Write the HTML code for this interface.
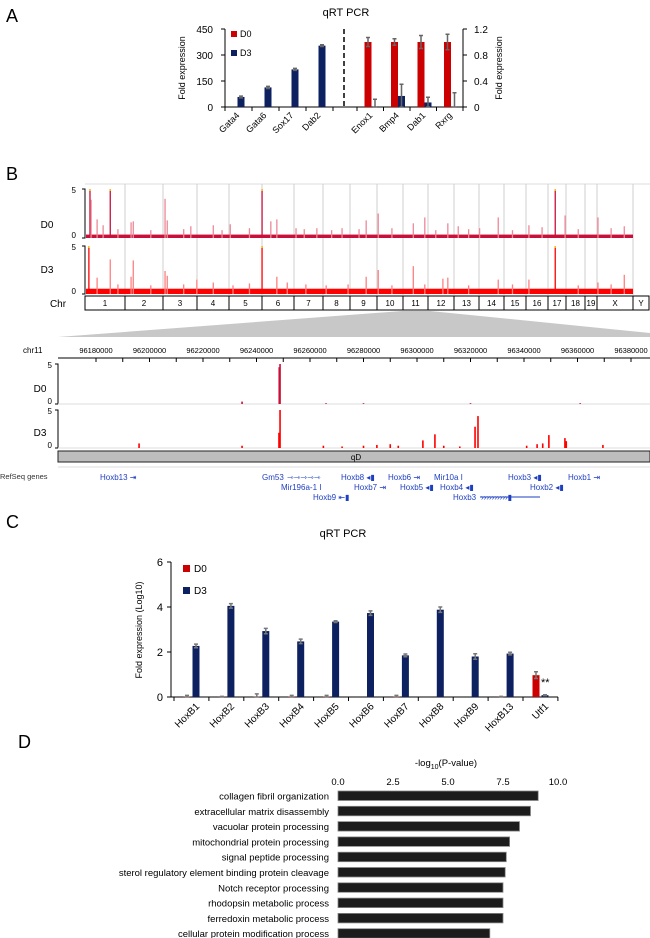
<!DOCTYPE html>
<html><head><meta charset="utf-8">
<style>
html,body{margin:0;padding:0;background:#fff;}
svg{display:block;font-family:"Liberation Sans",Arial,sans-serif;}
.g{fill:#1e3fc0;font-size:8px;}
</style></head>
<body>
<svg id="fig" width="650" height="938" viewBox="0 0 650 938">
<!-- Panel A static -->
<g>
<text x="6" y="22" font-size="18">A</text>
<text x="346" y="16" font-size="11" text-anchor="middle">qRT PCR</text>
<line x1="225" y1="29" x2="225" y2="107" stroke="#000" stroke-width="1"/>
<line x1="463" y1="29" x2="463" y2="107" stroke="#000" stroke-width="1"/>
<line x1="225" y1="107" x2="463" y2="107" stroke="#000" stroke-width="1"/>
<line x1="344" y1="29" x2="344" y2="107" stroke="#000" stroke-width="1.5" stroke-dasharray="5,3"/>
<g id="aTicks"></g>
<text x="185" y="68" font-size="9" text-anchor="middle" transform="rotate(-90 185 68)">Fold expression</text>
<text x="502" y="68" font-size="9" text-anchor="middle" transform="rotate(-90 502 68)">Fold expression</text>
<rect x="231" y="31" width="6" height="6" fill="#cc0000"/>
<text x="240" y="37" font-size="9">D0</text>
<rect x="231" y="50" width="6" height="6" fill="#0d2060"/>
<text x="240" y="56" font-size="9">D3</text>
<g id="aBars"></g>
</g>

<!-- Panel B -->
<g>
<text x="6" y="180" font-size="18">B</text>
<line x1="85" y1="184" x2="650" y2="184" stroke="#ddd" stroke-width="1"/>
<g id="chrSep"></g>
<g id="gTracks"></g>
<text x="47" y="228" font-size="10" text-anchor="middle">D0</text>
<text x="47" y="273" font-size="10" text-anchor="middle">D3</text>
<text x="58" y="307" font-size="10" text-anchor="middle">Chr</text>
<g id="chrBoxes"></g>
<polygon points="402,311 430,311 650,333 650,337 58,337" fill="#c8c8c8"/>
<text x="23" y="353" font-size="8">chr11</text>
<line x1="58" y1="358" x2="650" y2="358" stroke="#000" stroke-width="1"/>
<g id="zAxis"></g>
<g id="zTracks"></g>
<text x="40" y="392" font-size="10" text-anchor="middle">D0</text>
<text x="40" y="436" font-size="10" text-anchor="middle">D3</text>
<rect x="58" y="451" width="592" height="11" fill="#bdbdbd" stroke="#222" stroke-width="1"/>
<text x="356" y="460" font-size="8" text-anchor="middle">qD</text>
<line x1="58" y1="467" x2="650" y2="467" stroke="#ddd" stroke-width="1"/>
<text x="0" y="479" font-size="7.5" fill="#333">RefSeq genes</text>
<g>
<text class="g" x="100" y="480">Hoxb13 ⇥</text>
<text class="g" x="262" y="480">Gm53</text>
<text class="g" x="287" y="480" font-size="7">⇾⇾⇾⇾⇾</text>
<text class="g" x="341" y="480">Hoxb8 ◂▮</text>
<text class="g" x="388" y="480">Hoxb6 ⇥</text>
<text class="g" x="434" y="480">Mir10a  I</text>
<text class="g" x="508" y="480">Hoxb3 ◂▮</text>
<text class="g" x="568" y="480">Hoxb1 ⇥</text>
<text class="g" x="281" y="490">Mir196a-1  I</text>
<text class="g" x="354" y="490">Hoxb7 ⇥</text>
<text class="g" x="400" y="490">Hoxb5 ◂▮</text>
<text class="g" x="440" y="490">Hoxb4 ◂▮</text>
<text class="g" x="530" y="490">Hoxb2 ◂▮</text>
<text class="g" x="313" y="500">Hoxb9 ⇤▮</text>
<text class="g" x="453" y="500">Hoxb3</text>
<line x1="480" y1="497" x2="540" y2="497" stroke="#1e3fc0" stroke-width="1"/>
<text class="g" x="481" y="500" font-size="7">››››››››››▮</text>
</g>
</g>

<!-- Panel C -->
<g>
<text x="6" y="528" font-size="18">C</text>
<text x="343" y="537" font-size="11" text-anchor="middle">qRT PCR</text>
<line x1="171" y1="562" x2="171" y2="697" stroke="#000" stroke-width="1"/>
<line x1="171" y1="697" x2="558" y2="697" stroke="#000" stroke-width="1"/>
<text x="142" y="630" font-size="9" text-anchor="middle" transform="rotate(-90 142 630)">Fold expression (Log10)</text>
<rect x="183" y="565" width="7" height="7" fill="#cc0000"/>
<text x="194" y="572" font-size="10">D0</text>
<rect x="183" y="587" width="7" height="7" fill="#0d2060"/>
<text x="194" y="594" font-size="10">D3</text>
<text x="541" y="686" font-size="11">**</text>
<g id="cTicks"></g>
<g id="cBars"></g>
</g>

<!-- Panel D -->
<g>
<text x="18" y="748" font-size="18">D</text>
<text x="446" y="766" font-size="9.5" text-anchor="middle">-log<tspan font-size="7" dy="3">10</tspan><tspan dy="-3">(P-value)</tspan></text>
<g id="dTicks"></g>
<g id="dBars"></g>
</g>
</svg>

<script>
// ---------- Panel A data ----------
const aGenesLeft = ['Gata4','Gata6','Sox17','Dab2'];
const aD3Left = [58,113,217,354];
const aD3LeftErr = [5,6,6,5];
const aGenesRight = ['Enox1','Bmp4','Dab1','Rxrg'];
const aD0Right = [1.0,1.0,1.0,1.0];
const aD0RightErr = [0.07,0.05,0.1,0.12];
const aD3Right = [0.0,0.17,0.07,0.0];
const aD3RightErr = [0.12,0.18,0.08,0.22];
const aTicksLeft = [0,150,300,450];
const aTicksRight = [0,0.4,0.8,1.2];

// ---------- Panel B data (genome positions in track units 0..1000) ----------
const chrNames = ['1','2','3','4','5','6','7','8','9','10','11','12','13','14','15','16','17','18','19','X','Y'];
const d0PeakPos = [9,11,22,33,46,84,88,146,150,193,234,265,323,339,350,385,423,469,513,535,599,620,662,681,754,810,834,858,876,936,984,60,120,180,250,300,400,450,500,560,640,700,720,780,900,960];
const d0PeakVal = [5,3.9,1.9,1.3,5,1.6,1.7,4.0,1.8,1.2,1.3,1.4,5,1.7,1.9,1.0,1.0,1.0,1.8,2.5,1.5,2.1,1.5,1.2,2.1,1.3,1.1,5,2.3,2.1,1.2,0.9,0.8,0.9,0.8,1.0,0.9,0.8,0.9,1.0,0.8,0.9,1.0,0.8,0.9,1.0];
const d3PeakPos = [7,22,46,84,88,146,150,204,234,323,350,369,403,513,535,599,653,662,754,810,858,936,984,60,120,180,270,300,440,480,560,620,700,780,900,960];
const d3PeakVal = [5,1.7,3.6,1.8,3.5,2.4,1.9,1.5,1.2,5,1.8,1.2,1.0,1.8,2.5,2.9,1.6,1.7,1.5,1.5,5,1.2,2.0,1.0,0.9,1.0,0.9,1.1,0.9,1.0,0.9,1.0,0.9,1.0,0.9,1.0];
const d0Baseline = 0.35;
const d3Baseline = 0.55;

// ---------- Panel B locus data (chr11 coordinates) ----------
const locusTicks = [96180000,96200000,96220000,96240000,96260000,96280000,96300000,96320000,96340000,96360000,96380000];
const locusD0Pos = [96248800,96248500,96234600,96266000,96280000,96320000,96361000];
const locusD0Val = [5,4.6,0.3,0.1,0.1,0.1,0.1];
const locusD3Pos = [96248800,96248400,96321700,96322800,96306700,96302200,96349300,96355300,96344900,96196100,96369500,96234600,96265000,96272000,96280000,96285000,96290000,96293000,96310000,96316000,96341000,96347000,96355800];
const locusD3Val = [5,2.0,2.8,4.2,1.8,1.0,1.7,1.3,0.5,0.6,0.4,0.3,0.3,0.2,0.3,0.4,0.5,0.3,0.3,0.2,0.3,0.6,0.9];

// ---------- Panel C data ----------
const cGenes = ['HoxB1','HoxB2','HoxB3','HoxB4','HoxB5','HoxB6','HoxB7','HoxB8','HoxB9','HoxB13','Utf1'];
const cD0 = [0.02,0.01,0.02,0.02,0.02,0,0.02,0,0,0.01,0.97];
const cD0Err = [0.05,0.02,0.12,0.05,0.05,0,0.05,0,0,0.02,0.15];
const cD3 = [2.27,4.05,2.93,2.47,3.35,3.73,1.85,3.88,1.8,1.93,0.08];
const cD3Err = [0.08,0.1,0.12,0.1,0.04,0.1,0.06,0.12,0.12,0.06,0.02];
const cTicks = [0,2,4,6];

// ---------- Panel D data ----------
const dTerms = ['collagen fibril organization','extracellular matrix disassembly','vacuolar protein processing','mitochondrial protein processing','signal peptide processing','sterol regulatory element binding protein cleavage','Notch receptor processing','rhodopsin metabolic process','ferredoxin metabolic process','cellular protein modification process'];
const dValues = [9.1,8.75,8.25,7.8,7.65,7.6,7.5,7.5,7.5,6.9];
const dTicks = [0,2.5,5,7.5,10];
const dTickLabels = ['0.0','2.5','5.0','7.5','10.0'];

const NS='http://www.w3.org/2000/svg';
function mk(parent, tag, attrs, text){
  const el=document.createElementNS(NS,tag);
  for(const k in attrs) el.setAttribute(k,attrs[k]);
  if(text!==undefined) el.textContent=text;
  document.getElementById(parent).appendChild(el);
  return el;
}
function errBar(parent,x,y1,y2,color){
  const l=mk(parent,'path',{d:`M${x},${y1}V${y2}M${x-2},${y1}H${x+2}M${x-2},${y2}H${x+2}`,stroke:color,'stroke-width':1.5,fill:'none'});
  
  
}

// ---------- Panel A ----------
const yAL=v=>107-v/450*78;
const yAR=v=>107-v/1.2*78;
const xAL=i=>225+27*i;
const xAR=i=>357+26.5*i;
aTicksLeft.forEach(t=>{
  const tk=mk('aTicks','line',{x1:221,x2:225,y1:yAL(t),y2:yAL(t),stroke:'#000'});
  
  
  const lb=mk('aTicks','text',{x:213,y:yAL(t)+4,'font-size':10,'text-anchor':'end'},String(t));
  
  
});
aTicksRight.forEach(t=>{
  const tk=mk('aTicks','line',{x1:463,x2:467,y1:yAR(t),y2:yAR(t),stroke:'#000'});
  
  
  const lb=mk('aTicks','text',{x:474,y:yAR(t)+4,'font-size':10},String(t));
  
  
});
for(let i=0;i<=aGenesLeft.length;i++){
  const tk=mk('aTicks','line',{x1:xAL(i),x2:xAL(i),y1:107,y2:111,stroke:'#000'});
  
  
}
for(let i=0;i<=aGenesRight.length;i++){
  const tk=mk('aTicks','line',{x1:xAR(i),x2:xAR(i),y1:107,y2:111,stroke:'#000'});
  
  
}
aGenesLeft.forEach((g,i)=>{
  const cx=xAL(i)+16;
  const b=mk('aBars','rect',{x:cx-3.5,y:yAL(aD3Left[i]),width:7,height:107-yAL(aD3Left[i]),fill:'#0d2060'});
  
  
  errBar('aBars',cx,yAL(aD3Left[i]+aD3LeftErr[i]),yAL(aD3Left[i]-aD3LeftErr[i]),'#666');
  const ax=xAL(i)+15, ay=116;
  const lb=mk('aBars','text',{x:ax,y:ay,'font-size':9,'text-anchor':'end',transform:`rotate(-45 ${ax} ${ay})`},g);
  
  
});
aGenesRight.forEach((g,i)=>{
  const c0=xAR(i)+11, c3=xAR(i)+18;
  const b0=mk('aBars','rect',{x:c0-3.5,y:yAR(aD0Right[i]),width:7,height:107-yAR(aD0Right[i]),fill:'#cc0000'});
  
  
  const b3=mk('aBars','rect',{x:c3-3.5,y:yAR(aD3Right[i]),width:7,height:107-yAR(aD3Right[i]),fill:'#0d2060'});
  
  
  errBar('aBars',c0,yAR(aD0Right[i]+aD0RightErr[i]),yAR(aD0Right[i]-aD0RightErr[i]),'#666');
  errBar('aBars',c3,yAR(aD3Right[i]+aD3RightErr[i]),Math.min(107,yAR(aD3Right[i]-aD3RightErr[i])),'#666');
  const ax=xAR(i)+16, ay=116;
  const lb=mk('aBars','text',{x:ax,y:ay,'font-size':9,'text-anchor':'end',transform:`rotate(-45 ${ax} ${ay})`},g);
  
  
});

// ---------- Panel B genome ----------
const chrEdges=[85,125,163,197,229,262,294,323,350,377,403,428,454,479,504,526,548,566,585,597,633,649];
const gx=p=>85+p*548/1000;
for(let i=0;i<chrNames.length;i++){
  const bx=mk('chrBoxes','rect',{x:chrEdges[i],y:296,width:chrEdges[i+1]-chrEdges[i],height:14,fill:'#fff',stroke:'#000','stroke-width':1});
  
  
  const t=mk('chrBoxes','text',{x:(chrEdges[i]+chrEdges[i+1])/2,y:306,'font-size':8,'text-anchor':'middle'},chrNames[i]);
  
  
  if(i>0){
    const s=mk('chrSep','line',{x1:chrEdges[i],x2:chrEdges[i],y1:184,y2:295,stroke:'#cfcfcf','stroke-width':1});
    
    
  }
}
function genomeTrack(top,base,pos,val,baseVal,dark,light,name){
  const sc=(base-top)/5;
  const ax=mk('gTracks','path',{d:`M82,${top}H85V${base}H82`,stroke:'#000',fill:'none'});
  
  
  const l5=mk('gTracks','text',{x:76,y:top+4,'font-size':8,'text-anchor':'end'},'5');
  
  
  const l0=mk('gTracks','text',{x:76,y:base,'font-size':8,'text-anchor':'end'},'0');
  
  
  const bd=mk('gTracks','rect',{x:86,y:base-baseVal*sc,width:633-86,height:baseVal*sc,fill:dark});
  
  
  pos.forEach((p,i)=>{
    const pk=mk('gTracks','rect',{x:gx(p)-0.6,y:base-val[i]*sc,width:1.3,height:val[i]*sc,fill:val[i]>=4.5?dark:light});
    
    
    if(val[i]>=5){
      const cap=mk('gTracks','rect',{x:gx(p)-0.6,y:top,width:1.3,height:2,fill:'#f0d000'});
      
      
    }
  });
}
genomeTrack(189,238,d0PeakPos,d0PeakVal,d0Baseline,'#c8103a','#ee8898','track-d0');
genomeTrack(246,294,d3PeakPos,d3PeakVal,d3Baseline,'#ff0000','#ff8080','track-d3');

// ---------- Panel B locus ----------
const zx=p=>96+(p-96180000)*53.5/20000;
locusTicks.forEach(t=>{
  const tk=mk('zAxis','line',{x1:zx(t),x2:zx(t),y1:358,y2:362,stroke:'#000'});
  
  
  const mt=mk('zAxis','line',{x1:zx(t+10000),x2:zx(t+10000),y1:358,y2:362,stroke:'#000'});
  
  
  const lb=mk('zAxis','text',{x:zx(t),y:353,'font-size':7.5,'text-anchor':'middle'},String(t));
  
  
});
function locusTrack(top,base,pos,val,color,name){
  const sc=(base-top)/5;
  const ax=mk('zTracks','path',{d:`M55,${top}H58V${base}H55`,stroke:'#000',fill:'none'});
  
  
  const l5=mk('zTracks','text',{x:52,y:top+4,'font-size':8,'text-anchor':'end'},'5');
  
  
  const l0=mk('zTracks','text',{x:52,y:base,'font-size':8,'text-anchor':'end'},'0');
  
  
  const bl=mk('zTracks','line',{x1:58,x2:650,y1:base,y2:base,stroke:'#ddd'});
  
  
  pos.forEach((p,i)=>{
    const pk=mk('zTracks','rect',{x:zx(p)-0.8,y:base-val[i]*sc,width:1.6,height:val[i]*sc,fill:color});
    
    
  });
}
locusTrack(364,404,locusD0Pos,locusD0Val,'#c8103a','locus-d0');
locusTrack(410,448,locusD3Pos,locusD3Val,'#ff0000','locus-d3');

// ---------- Panel C ----------
const yC=v=>697-v*22.5;
const xC=i=>174+34.9*i;
cTicks.forEach(t=>{
  const tk=mk('cTicks','line',{x1:167,x2:171,y1:yC(t),y2:yC(t),stroke:'#000'});
  
  
  const lb=mk('cTicks','text',{x:163,y:yC(t)+4,'font-size':11,'text-anchor':'end'},String(t));
  
  
});
for(let i=0;i<=cGenes.length;i++){
  const tk=mk('cTicks','line',{x1:xC(i),x2:xC(i),y1:697,y2:701,stroke:'#000'});
  
  
}
cGenes.forEach((g,i)=>{
  const c0=xC(i)+13, c3=xC(i)+22;
  const b0=mk('cBars','rect',{x:c0-3.5,y:yC(cD0[i]),width:7,height:697-yC(cD0[i]),fill:'#cc0000'});
  
  
  const b3=mk('cBars','rect',{x:c3-3.5,y:yC(cD3[i]),width:7,height:697-yC(cD3[i]),fill:'#0d2060'});
  
  
  if(cD0Err[i]>0) errBar('cBars',c0,yC(cD0[i]+cD0Err[i]),Math.min(697,yC(cD0[i]-cD0Err[i])),'#777');
  errBar('cBars',c3,yC(cD3[i]+cD3Err[i]),yC(cD3[i]-cD3Err[i]),'#777');
  const ax=xC(i)+26, ay=707;
  const lb=mk('cBars','text',{x:ax,y:ay,'font-size':10,'text-anchor':'end',transform:`rotate(-45 ${ax} ${ay})`},g);
  
  
});

// ---------- Panel D ----------
const xD=v=>338+v*22;
const yD=i=>791+15.3*i;
dTicks.forEach((t,i)=>{
  const lb=mk('dTicks','text',{x:xD(t),y:785,'font-size':9.5,'text-anchor':'middle'},dTickLabels[i]);
  
  
});
dTerms.forEach((t,i)=>{
  const b=mk('dBars','rect',{x:xD(0),y:yD(i),width:xD(dValues[i])-xD(0),height:9.5,fill:'#1c1c1c',stroke:'#888','stroke-width':0.8});
  
  
  const lb=mk('dBars','text',{x:329,y:yD(i)+8.5,'font-size':9.5,'text-anchor':'end'},t);
  
  
});
</script>
</body></html>
